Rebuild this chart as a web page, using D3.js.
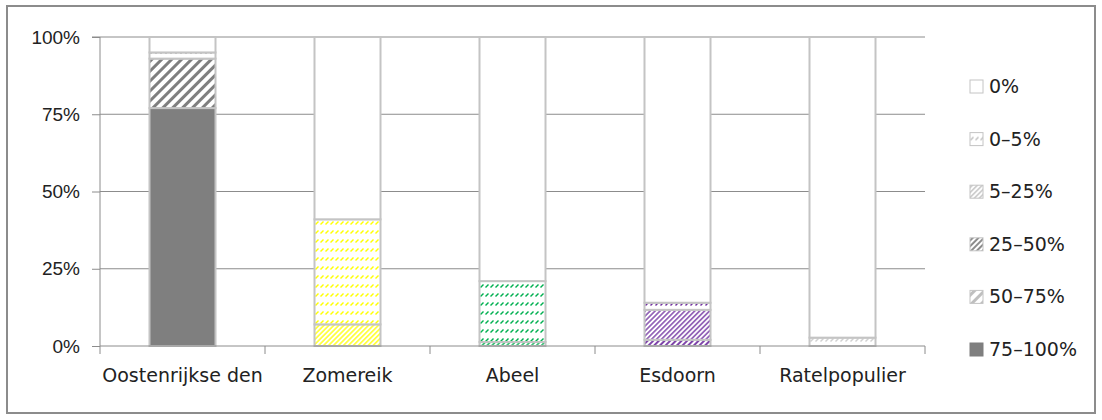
<!DOCTYPE html>
<html>
<head>
<meta charset="utf-8">
<script src="https://cdn.jsdelivr.net/npm/d3@7"></script>
<style>
  body { margin: 0; background: #fff; }
  svg { display: block; font-family: "DejaVu Sans", sans-serif; }
</style>
</head>
<body>
<svg width="1102" height="420"></svg>
<script>
// categorieën en klassen
const categories = ["Oostenrijkse den", "Zomereik", "Abeel", "Esdoorn", "Ratelpopulier"];
const classes = ["0%", "0-5%", "5-25%", "25-50%", "50-75%", "75-100%"];
const barColors = ["#7f7f7f", "#ffff00", "#00b050", "#7030a0", "#d0d0d0"];
const yTicks = [0, 25, 50, 75, 100];

// aandelen per klasse (%), volgorde = categories
const v0 = [5, 59, 79, 86, 97.3];
const v0_5 = [2, 34, 19.7, 2.3, 2.7];
const v5_25 = [0, 7, 1.3, 9.7, 0];
const v25_50 = [0, 0, 0, 2, 0];
const v50_75 = [16, 0, 0, 0, 0];
const v75_100 = [77, 0, 0, 0, 0];

const series = { "0%": v0, "0-5%": v0_5, "5-25%": v5_25, "25-50%": v25_50, "50-75%": v50_75, "75-100%": v75_100 };
const stackOrder = ["75-100%", "50-75%", "25-50%", "5-25%", "0-5%", "0%"];

const margin = { top: 37, left: 100 };
const width = 825, height = 309;
const fontSize = 19;

const svg = d3.select("svg");

// kader
svg.append("rect")
  .attr("x", 7).attr("y", 6).attr("width", 1088).attr("height", 407)
  .attr("fill", "none").attr("stroke", "#8c8c8c").attr("stroke-width", 2);

const defs = svg.append("defs");

// patronen
function makePattern(id, type, color) {
  if (type === "0%" || type === "75-100%") return;
  let p;
  if (type === "0-5%") {
    p = defs.append("pattern").attr("id", id).attr("patternUnits", "userSpaceOnUse")
      .attr("width", 5).attr("height", 9);
    p.append("rect").attr("width", 5).attr("height", 9).attr("fill", "#fff");
    p.append("line").attr("x1", 0.5).attr("y1", 7.5).attr("x2", 3.5).attr("y2", 4.5)
      .attr("stroke", color).attr("stroke-width", 1.5);
    return;
  }
  const spec = {
    "5-25%": { w: 3.5, sw: 1.3 },
    "25-50%": { w: 4, sw: 1.8 },
    "50-75%": { w: 7, sw: 3 }
  }[type];
  p = defs.append("pattern").attr("id", id).attr("patternUnits", "userSpaceOnUse")
    .attr("width", spec.w).attr("height", spec.w)
    .attr("patternTransform", "rotate(45)");
  p.append("rect").attr("width", spec.w).attr("height", spec.w).attr("fill", "#fff");
  p.append("line").attr("x1", spec.w / 2).attr("y1", 0).attr("x2", spec.w / 2).attr("y2", spec.w)
    .attr("stroke", color).attr("stroke-width", spec.sw);
}

function fillFor(cls, color, key) {
  if (cls === "0%") return "#fff";
  if (cls === "75-100%") return color;
  return `url(#p-${key}-${classes.indexOf(cls)})`;
}

barColors.forEach((c, i) => classes.forEach((cls, j) => makePattern(`p-c${i}-${j}`, cls, c)));

const g = svg.append("g").attr("transform", `translate(${margin.left},${margin.top})`);

const x = d3.scaleBand().domain(categories).range([0, width])
  .paddingInner(0.6).paddingOuter(0.3);
const y = d3.scaleLinear().domain([0, 100]).range([height, 0]);

// rasterlijnen
g.append("g").selectAll("line").data(yTicks.filter(t => t > 0)).join("line")
  .attr("x1", 0).attr("x2", width)
  .attr("y1", d => y(d)).attr("y2", d => y(d))
  .attr("stroke", "#8c8c8c").attr("stroke-width", 1);

// stapels
const table = categories.map((c, i) => {
  const row = { cat: c, idx: i };
  classes.forEach(k => row[k] = series[k][i]);
  return row;
});
const stacked = d3.stack().keys(stackOrder)(table);

stacked.forEach(layer => {
  g.append("g").selectAll("rect").data(layer).join("rect")
    .attr("x", d => x(d.data.cat))
    .attr("y", d => y(d[1]))
    .attr("width", x.bandwidth())
    .attr("height", d => y(d[0]) - y(d[1]))
    .attr("fill", d => fillFor(layer.key, barColors[d.data.idx], "c" + d.data.idx))
    .attr("stroke", "#c4c4c4").attr("stroke-width", 2)
    .attr("display", d => d[1] - d[0] > 0 ? null : "none");
});

// y-as
const yAxis = d3.axisLeft(y).tickValues(yTicks).tickFormat(d => d + "%").tickSize(8).tickPadding(12);
const ya = g.append("g").call(yAxis);
ya.select(".domain").attr("stroke", "#8c8c8c").attr("d", `M-8,0H0V${height}`);
ya.selectAll(".tick line").attr("stroke", "#8c8c8c");
ya.selectAll("text").attr("font-size", fontSize).attr("fill", "#222");

// x-as
const xa = g.append("g").attr("transform", `translate(0,${height})`);
xa.append("line").attr("x1", 0).attr("x2", width).attr("stroke", "#8c8c8c");
const bounds = d3.range(categories.length + 1).map(i => i * x.step());
xa.selectAll(".tk").data(bounds).join("line").attr("class", "tk")
  .attr("x1", d => d).attr("x2", d => d).attr("y1", 0).attr("y2", 8)
  .attr("stroke", "#8c8c8c");
xa.selectAll("text").data(categories).join("text")
  .attr("x", d => x(d) + x.bandwidth() / 2).attr("y", 36)
  .attr("text-anchor", "middle").attr("font-size", fontSize).attr("fill", "#222")
  .text(d => d);

// legenda
const legendItems = classes.map((c, j) => ({ cls: c, j }));
const lg = svg.append("g").attr("transform", "translate(970,80)");
const legendColor = { "0%": "#fff", "0-5%": "#bfbfbf", "5-25%": "#bfbfbf", "25-50%": "#7f7f7f", "50-75%": "#bfbfbf", "75-100%": "#7f7f7f" };
classes.forEach(c => makePattern(`p-lg-${classes.indexOf(c)}`, c, legendColor[c]));
const li = lg.selectAll("g").data(legendItems).join("g")
  .attr("transform", d => `translate(0,${d.j * 52.6})`);
li.append("rect").attr("width", 13).attr("height", 13)
  .attr("fill", d => d.cls === "0%" ? "#fff" : d.cls === "75-100%" ? "#7f7f7f" : `url(#p-lg-${d.j})`)
  .attr("stroke", d => d.cls === "75-100%" ? "#7f7f7f" : "#c4c4c4").attr("stroke-width", 1);
li.append("text").attr("x", 19).attr("y", 13).attr("font-size", fontSize).attr("fill", "#222")
  .text(d => d.cls.replace("-", "–"));
</script>
</body>
</html>
